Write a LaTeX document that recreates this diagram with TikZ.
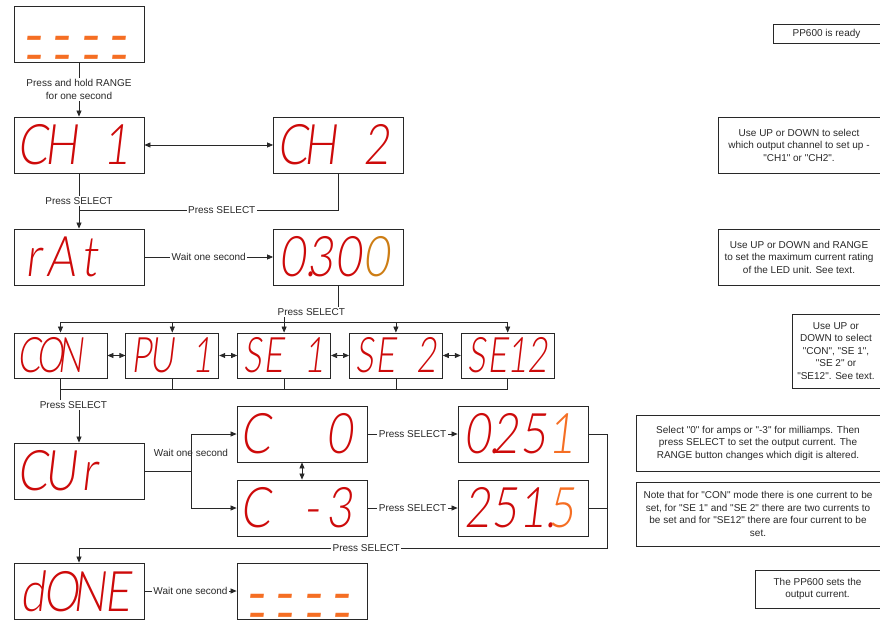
\documentclass[tikz,border=0pt]{standalone}
\usepackage{fontspec}
\setmainfont{Liberation Sans}[Ligatures=TeXOff]
\newfontfamily\segfont{Lato Light}[Ligatures=TeXOff, FakeSlant=0.12, FakeStretch=0.8]
\newfontfamily\segfontsm{Lato Light}[Ligatures=TeXOff, FakeSlant=0.12, FakeStretch=0.7]
\newfontfamily\segdash{Lato}[Ligatures=TeXOff, FakeSlant=0.12]
\usepackage{xcolor}
\usepackage{tikz}
\usetikzlibrary{arrows.meta, positioning}
\definecolor{segred}{RGB}{205,10,10}
\definecolor{segorange}{RGB}{245,110,35}
\definecolor{segamber}{RGB}{205,125,20}
\definecolor{ink}{RGB}{40,40,40}
\newlength\segw
\newcommand\seg[4]{\makebox[\segw]{#1}\makebox[\segw]{#2}\makebox[\segw]{#3}\makebox[\segw]{#4}}

\begin{document}
\begin{tikzpicture}[x=1pt, y=-1pt,
    disp/.style={draw=ink, line width=0.8pt, text width=120pt, inner xsep=5pt,
      inner ysep=0pt, minimum height=56pt, align=left, text=segred,
      font=\segfont\fontsize{56}{56}\selectfont\setlength\segw{28pt}},
    dispsm/.style={disp, text width=83pt, minimum height=45pt,
      font=\segfontsm\fontsize{49}{49}\selectfont\setlength\segw{20.5pt}},
    dashdisp/.style={disp, text=segorange, text height=46pt, text depth=4pt,
      font=\segdash\fontsize{54}{19}\selectfont\setlength\segw{28pt}},
    note/.style={draw=ink, line width=0.8pt, align=center, inner sep=2pt,
      text=ink, font=\fontsize{10}{12.5}\selectfont},
    lbl/.style={text=ink, align=center, inner sep=1.5pt,
      font=\fontsize{10}{12.5}\selectfont},
    wire/.style={draw=ink, line width=0.7pt},
    arrow/.style={wire, -{Triangle[length=6pt, width=5pt]}},
    biarrow/.style={wire, {Triangle[length=6pt, width=5pt]}-{Triangle[length=6pt, width=5pt]}}
]
\useasboundingbox (0,0) rectangle (880,620);

% displays
\node[dashdisp] (ready) at (79,34)    {\seg{-}{-}{-}{-}\\\seg{-}{-}{-}{-}};
\node[disp]     (ch1)   at (79,145)   {\seg{C}{H}{}{1}};
\node[disp]     (ch2)   at (338.5,145) {\seg{C}{H}{}{2}};
\node[disp]     (rat)   at (79,257)   {\seg{r}{A}{t}{}};
\node[disp]     (r300)  at (338.5,257) {\seg{0\rlap{.}}{3}{0}{\color{segamber}0}};
\node[dispsm]   (con)   at (60.5,355.5) {\seg{C}{O}{N}{}};
\node[dispsm, right=18pt of con] (pu1)  {\seg{P}{U}{}{1}};
\node[dispsm, right=18pt of pu1] (se1)  {\seg{S}{E}{}{1}};
\node[dispsm, right=18pt of se1] (se2)  {\seg{S}{E}{}{2}};
\node[dispsm, right=18pt of se2] (se12) {\seg{S}{E}{1}{2}};
\node[disp]     (cur)   at (79,471)   {\seg{C}{U}{r}{}};
\node[disp]     (c0)    at (302,434)  {\seg{C}{}{}{0}};
\node[disp]     (cm3)   at (302,508)  {\seg{C}{}{-}{3}};
\node[disp]     (r251)  at (523,434)  {\seg{0\rlap{.}}{2}{5}{\color{segorange}1}};
\node[disp]     (r2515) at (523,508)  {\seg{2}{5}{1\rlap{.}}{\color{segorange}5}};
\node[disp]     (done)  at (79,591)   {\seg{d}{O}{N}{E}};
\node[dashdisp] (idle)  at (302,591)  {\seg{-}{-}{-}{-}\\\seg{-}{-}{-}{-}};

% notes
\node[note, minimum width=107pt, minimum height=19pt] (n1) at (826.5,33.5) {PP600 is ready};
\node[note, minimum width=162pt, minimum height=56pt] (n2) at (799,145)
  {Use UP or DOWN to select\\which output channel to set up -\\"CH1" or "CH2".};
\node[note, minimum width=162pt, minimum height=56pt] (n3) at (799,257)
  {Use UP or DOWN and RANGE\\to set the maximum current rating\\of the LED unit. See text.};
\node[note, minimum width=88pt, minimum height=74pt] (n4) at (836,351)
  {Use UP or\\DOWN to select\\"CON", "SE 1",\\"SE 2" or\\"SE12". See text.};
\node[note, minimum width=244pt, minimum height=56pt] (n5) at (758,443)
  {Select "0" for amps or "-3" for milliamps. Then\\press SELECT to set the output current. The\\RANGE button changes which digit is altered.};
\node[note, minimum width=244pt, minimum height=64pt] (n6) at (758,514)
  {Note that for "CON" mode there is one current to be\\set, for "SE 1" and "SE 2" there are two currents to\\be set and for "SE12" there are four current to be\\set.};
\node[note, minimum width=125pt, minimum height=38pt] (n7) at (817.5,589)
  {The PP600 sets the\\output current.};

% connectors
\draw[arrow] (ready) -- node[lbl, fill=white] {Press and hold RANGE\\for one second} (ch1);
\draw[biarrow] (ch1) -- (ch2);
\draw[arrow] (ch1) -- node[lbl, fill=white] {Press SELECT} (rat);
\coordinate (j1) at (79,210);
\draw[wire] (ch2) |- node[lbl, fill=white, pos=0.725] {Press SELECT} (j1);
\draw[arrow] (rat) -- node[lbl, fill=white] {Wait one second} (r300);

\coordinate (hub) at ([yshift=10pt]se1.north);
\draw[wire] (r300) |- node[lbl, fill=white, pos=0.75] {Press SELECT} ([yshift=11pt]hub) -- (hub);
\foreach \b in {con,pu1,se1,se2,se12}
  \draw[arrow] (hub) -| (\b);
\draw[biarrow] (con) -- (pu1);
\draw[biarrow] (pu1) -- (se1);
\draw[biarrow] (se1) -- (se2);
\draw[biarrow] (se2) -- (se12);
\coordinate (hubb) at ([yshift=-11pt]se1.south);
\foreach \b in {con,pu1,se1,se2,se12}
  \draw[wire] (\b) |- (hubb);
\draw[arrow] (con.south) -- ++(0,-27pt) -| node[lbl, fill=white, pos=0.35] {Press SELECT} (cur);

\coordinate (fork) at (191,471);
\draw[arrow] (cur) -- (fork) |- node[lbl, pos=0.25] {Wait one second} (c0);
\draw[arrow] (fork) |- (cm3);
\draw[biarrow] (c0) -- (cm3);
\draw[arrow] (c0) -- node[lbl, fill=white] {Press SELECT} (r251);
\draw[arrow] (cm3) -- node[lbl, fill=white] {Press SELECT} (r2515);
\coordinate (ret) at (607,548);
\draw[wire] (r251) -| (ret);
\draw[arrow] (r2515) -| (ret) -| node[lbl, fill=white, pos=0.228] {Press SELECT} (done);
\draw[arrow] (done) -- node[lbl, fill=white] {Wait one second} (idle);
\end{tikzpicture}
\end{document}
